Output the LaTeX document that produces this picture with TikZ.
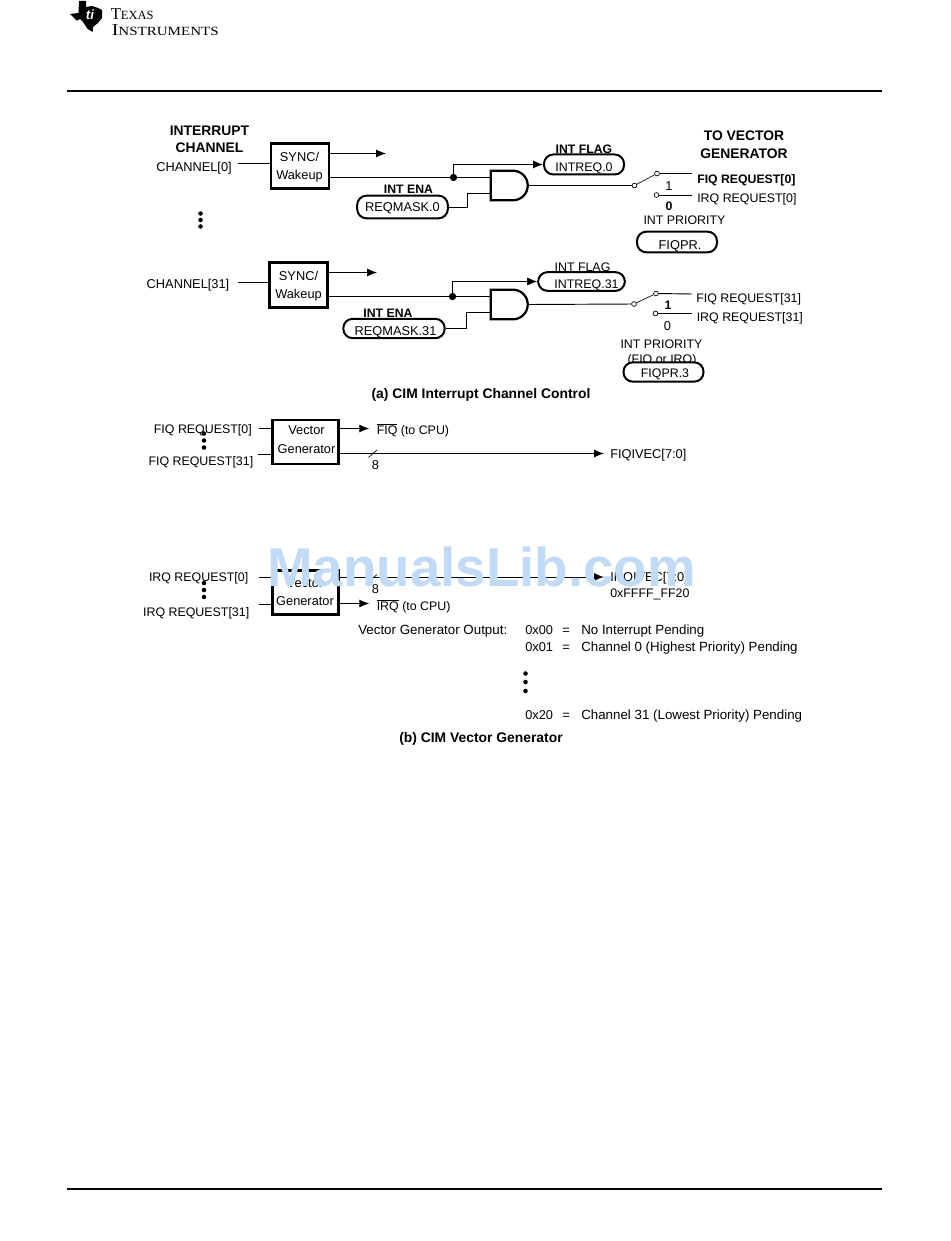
\documentclass[tikz,border=0pt]{standalone}
\usepackage{fontspec}
\setmainfont{Liberation Sans}
\newfontfamily\logofont{Liberation Serif}
\usetikzlibrary{arrows.meta, shapes.gates.logic.US}
\definecolor{markblue}{RGB}{193,218,246}
\tikzset{
    label/.style={inner sep=0pt, text height=6.9pt, text depth=0pt, font=\fontsize{9.6}{11}\selectfont},
    request/.style={inner sep=0pt, text height=6.7pt, text depth=0pt, font=\fontsize{9.3}{11}\selectfont},
    tabletext/.style={inner sep=0pt, text height=7.1pt, text depth=0pt, font=\fontsize{10}{12}\selectfont},
    strong/.style={inner sep=0pt, text height=6.6pt, text depth=0pt, font=\fontsize{9.2}{11}\selectfont\bfseries},
    heading/.style={inner sep=0pt, text height=7.5pt, text depth=0pt, font=\fontsize{10.4}{12}\selectfont\bfseries},
    blockbox/.style={draw, line width=1.9pt, inner sep=0pt, minimum width=43.5pt, minimum height=34pt},
    pillbox/.style={draw, fill=white, line width=1.5pt, rounded corners=7pt, inner sep=0pt, minimum height=15pt},
    andbox/.style={and gate US, draw, line width=1.7pt, logic gate inputs=nn, inner sep=0pt, minimum width=27pt, minimum height=20pt},
    contact/.style={circle, draw, line width=0.5pt, inner sep=0pt, minimum size=3.6pt},
    junction/.style={circle, fill=black, inner sep=0pt, minimum size=5.5pt},
    dotmark/.style={circle, fill=black, inner sep=0pt, minimum size=3.4pt},
    wire/.style={line width=0.7pt},
    tipwire/.style={line width=0.7pt, -{Latex[length=7.5pt, width=6pt]}}
}
\begin{document}
\begin{tikzpicture}[x=0.75pt, y=-0.75pt]
    % Page
    \fill[white] (0,0) rectangle (950,1241);
    \useasboundingbox (0,0) rectangle (950,1241);

    % Logo and page rules
    \fill (70,14) -- (78.5,13) -- (79,1) -- (86,1) -- (86,7) -- (92,6) -- (98,8) -- (102,10) -- (102,18)
        -- (98,23) -- (93,27) -- (92.7,32) -- (87.7,29) -- (83,22) -- (80,19) -- (76.7,20.7) -- cycle;
    \node[inner sep=0pt, white, font=\fontsize{10}{10}\selectfont\bfseries\itshape] (logomark) at (90,15) {ti};
    \node[anchor=west, inner sep=0pt, font=\logofont\fontsize{12.5}{12}\selectfont] (logotexas) at (110.5,14)
        {T{\fontsize{9.4}{12}\selectfont EXAS}};
    \node[anchor=west, inner sep=0pt, font=\logofont\fontsize{12.5}{12}\selectfont] (logoinst) at (111.5,30)
        {\scalebox{1.2}[1]{I{\fontsize{9.4}{12}\selectfont NSTRUMENTS}}};
    \draw[line width=2.2pt] (67,91) -- (882,91);
    \draw[line width=2.2pt] (67,1189) -- (882,1189);

    % Channel 0
    \node[heading] (title) at (209.5,131) {INTERRUPT};
    \node[heading] (titleb) at (209.5,148) {CHANNEL};
    \node[label] (chan0) at (194,167) {CHANNEL[0]};
    \node[blockbox] (sync0) at (300,166) {};
    \node[label] (sync0a) at (299.5,156.5) {SYNC/};
    \node[label] (sync0b) at (299.5,174.5) {Wakeup};
    \coordinate (chan0in) at (238,163);
    \draw[wire] (chan0in) -- (chan0in -| sync0.west);
    \coordinate (sync0top) at (386,153.5);
    \draw[tipwire] (sync0top -| sync0.east) -- (sync0top);
    \node[junction] (dot0) at (453.5,177.5) {};
    \node[andbox] (and0) at (508,185.5) {};
    \draw[wire] (dot0 -| sync0.east) -- (dot0) -- (dot0 -| and0.west);
    \node[strong] (flag0) at (584,149) {INT FLAG};
    \node[pillbox, minimum width=60pt] (intreq0) at (584,164.5) {};
    \node[request] (intreq0t) at (584,167) {INTREQ.0};
    \draw[tipwire] (dot0) |- (intreq0.west);
    \node[strong] (ena0) at (408.5,189) {INT ENA};
    \node[pillbox, minimum width=68pt, minimum height=17pt] (mask0) at (402.5,207) {};
    \node[label] (mask0t) at (402.5,207) {REQMASK.0};
    \coordinate (and0b) at (490,193);
    \draw[wire] (mask0.east) -| (467.5,193) -- (and0b);
    \node[contact] (sw0) at (634.5,185.5) {};
    \node[contact] (sw0a) at (657,173.5) {};
    \node[contact] (sw0b) at (656.5,195) {};
    \coordinate (fiq0) at (692,173.5);
    \coordinate (irq0) at (692,195);
    \draw[wire] (and0.east) -- (sw0);
    \draw[line width=0.5pt] (sw0) -- (sw0a);
    \draw[wire] (sw0a) -- (fiq0);
    \draw[wire] (sw0b) -- (irq0);
    \node[label] (one0) at (669,186) {1};
    \node[strong] (zero0) at (669,206.5) {0};
    \node[strong, anchor=west] (fiqreq0) at (697,179) {FIQ REQUEST[0]};
    \node[request, anchor=west] (irqreq0) at (697,198.5) {IRQ REQUEST[0]};
    \node[heading] (vec) at (744,136) {TO VECTOR};
    \node[heading] (vecb) at (744,154) {GENERATOR};
    \node[request] (prio0) at (684.5,220) {INT PRIORITY};
    \node[pillbox, minimum width=60pt, minimum height=15.5pt] (fiqpr0) at (677,242) {};
    \node[label] (fiqpr0t) at (680,245) {FIQPR.};

    % Dots between the channels
    \foreach \y in {213.5,220,226.5}
        \node[dotmark] at (200.5,\y) {};

    % Channel 31
    \node[label] (chan31) at (188,284) {CHANNEL[31]};
    \node[blockbox] (sync31) at (298.5,285) {};
    \node[label] (sync31a) at (298.5,275.5) {SYNC/};
    \node[label] (sync31b) at (298.5,294) {Wakeup};
    \coordinate (chan31in) at (238,282.5);
    \draw[wire] (chan31in) -- (chan31in -| sync31.west);
    \coordinate (sync31top) at (377,272.5);
    \draw[tipwire] (sync31top -| sync31.east) -- (sync31top);
    \node[junction] (dot31) at (452.5,296.5) {};
    \node[andbox] (and31) at (508,304.5) {};
    \draw[wire] (dot31 -| sync31.east) -- (dot31) -- (dot31 -| and31.west);
    \node[request] (flag31) at (582.5,267) {INT FLAG};
    \node[pillbox, minimum width=65pt, minimum height=14pt] (intreq31) at (581.5,281.5) {};
    \node[request] (intreq31t) at (586.5,284) {INTREQ.31};
    \draw[tipwire] (dot31) |- (intreq31.west);
    \node[strong] (ena31) at (388,313) {INT ENA};
    \node[pillbox, minimum width=76pt, minimum height=14.5pt] (mask31) at (394,328.5) {};
    \node[label] (mask31t) at (395.5,331) {REQMASK.31};
    \coordinate (and31b) at (490,312.5);
    \draw[wire] (mask31.east) -| (466.5,312.5) -- (and31b);
    \node[contact] (sw31) at (634,304) {};
    \node[contact] (sw31a) at (656,293.5) {};
    \node[contact] (sw31b) at (655.5,313.5) {};
    \coordinate (fiq31) at (692,294);
    \coordinate (irq31) at (692,313.5);
    \draw[wire] (and31.east) -- (sw31);
    \draw[line width=0.5pt] (sw31) -- (sw31a);
    \draw[wire] (sw31a) -- (fiq31);
    \draw[wire] (sw31b) -- (irq31);
    \node[strong] (one31) at (668,305) {1};
    \node[label] (zero31) at (667.5,325.5) {0};
    \node[request, anchor=west] (fiqreq31) at (696,298.5) {FIQ REQUEST[31]};
    \node[request, anchor=west] (irqreq31) at (696.5,317.5) {IRQ REQUEST[31]};
    \node[request] (prio31) at (661.5,344.5) {INT PRIORITY};
    \node[request] (prio31b) at (662,359) {(FIQ or IRQ)};
    \node[pillbox, minimum width=60pt, minimum height=14.5pt] (fiqpr31) at (663.5,372) {};
    \node[request] (fiqpr31t) at (665,373) {FIQPR.3};

    \node[heading] (capa) at (481,393.5) {(a) CIM Interrupt Channel Control};

    % FIQ vector generator
    \node[request, anchor=east] (fiqin0) at (252,429.5) {FIQ REQUEST[0]};
    \node[request, anchor=east] (fiqin31) at (253.5,461.5) {FIQ REQUEST[31]};
    \node[blockbox, minimum width=49.5pt, minimum height=33pt] (vecfiq) at (305.5,442) {};
    \node[label] (vecfiqa) at (306.5,430) {Vector};
    \node[label] (vecfiqb) at (306.5,448.5) {Generator};
    \coordinate (fiqa) at (259,428.5);
    \coordinate (fiqb) at (258,454);
    \draw[wire] (fiqa) -- (fiqa -| vecfiq.west);
    \draw[wire] (fiqb) -- (fiqb -| vecfiq.west);
    \foreach \y in {433.5,440.5,447.5}
        \node[dotmark] at (204,\y) {};
    \node[request, anchor=west] (fiqcpu) at (376.5,430.5) {$\overline{\mbox{FIQ}}$ (to CPU)};
    \draw[tipwire] (vecfiq.east |- fiqcpu.west) ++(0,-2) -- ++(29.5,0);
    \node[label, anchor=west] (fiqvec) at (610,454) {FIQIVEC[7:0]};
    \coordinate (fiqline) at (338,453.5);
    \draw[tipwire] (fiqline) -- (604,453.5);
    \coordinate (slasha) at (368.5,457.5);
    \coordinate (slashb) at (377,450);
    \draw[line width=0.5pt] (slasha) -- (slashb);
    \node[label] (eighta) at (375.5,464.5) {8};

    % IRQ vector generator
    \node[request, anchor=east] (irqin0) at (248.5,577.5) {IRQ REQUEST[0]};
    \node[request, anchor=east] (irqin31) at (249.5,612) {IRQ REQUEST[31]};
    \node[blockbox, minimum width=49.5pt, minimum height=33pt] (vecirq) at (305.5,592.5) {};
    \node[label] (vecirqa) at (305,582.5) {Vector};
    \node[label] (vecirqb) at (305,600.5) {Generator};
    \coordinate (irqa) at (259,577);
    \coordinate (irqb) at (259,604);
    \draw[wire] (irqa) -- (irqa -| vecirq.west);
    \draw[wire] (irqb) -- (irqb -| vecirq.west);
    \foreach \y in {583,590,597}
        \node[dotmark] at (204,\y) {};
    \node[request, anchor=west] (irqcpu) at (376.5,606.5) {$\overline{\mbox{IRQ}}$ (to CPU)};
    \draw[tipwire] (vecirq.east |- irqcpu.west) ++(0,-3) -- ++(29.5,0);
    \node[label, anchor=west] (irqvec) at (610,576.5) {IRQIVEC[7:0]};
    \node[request, anchor=west] (irqaddr) at (610,593) {0xFFFF\_FF20};
    \coordinate (irqline) at (338,577);
    \draw[tipwire] (irqline) -- (604,577);
    \coordinate (slashc) at (368.5,582);
    \coordinate (slashd) at (377,574.5);
    \draw[line width=0.5pt] (slashc) -- (slashd);
    \node[label] (eightb) at (375.5,588.5) {8};

    % Vector generator output table
    \node[tabletext, anchor=west] (outp) at (358,630) {Vector Generator Output:};
    \node[label, anchor=west] (codea) at (525,630) {0x00};
    \node[label] (eqa) at (566,630) {=};
    \node[tabletext, anchor=west] (texta) at (581,630) {No Interrupt Pending};
    \node[label, anchor=west] (codeb) at (525,647) {0x01};
    \node[label] (eqb) at (566,647) {=};
    \node[tabletext, anchor=west] (textb) at (581,647) {Channel 0 (Highest Priority) Pending};
    \foreach \y in {673.5,682,691}
        \node[dotmark] at (525.5,\y) {};
    \node[label, anchor=west] (codec) at (525,714.5) {0x20};
    \node[label] (eqc) at (566,714.5) {=};
    \node[tabletext, anchor=west] (textc) at (581,714.5) {Channel 31 (Lowest Priority) Pending};
    \node[heading] (capb) at (481,737.5) {(b) CIM Vector Generator};

    % Watermark over the drawing
    \node[inner sep=0pt, text=markblue, font=\fontsize{41}{44}\selectfont\bfseries] (mark) at (481.5,567) {ManualsLib.com};
\end{tikzpicture}
\end{document}
